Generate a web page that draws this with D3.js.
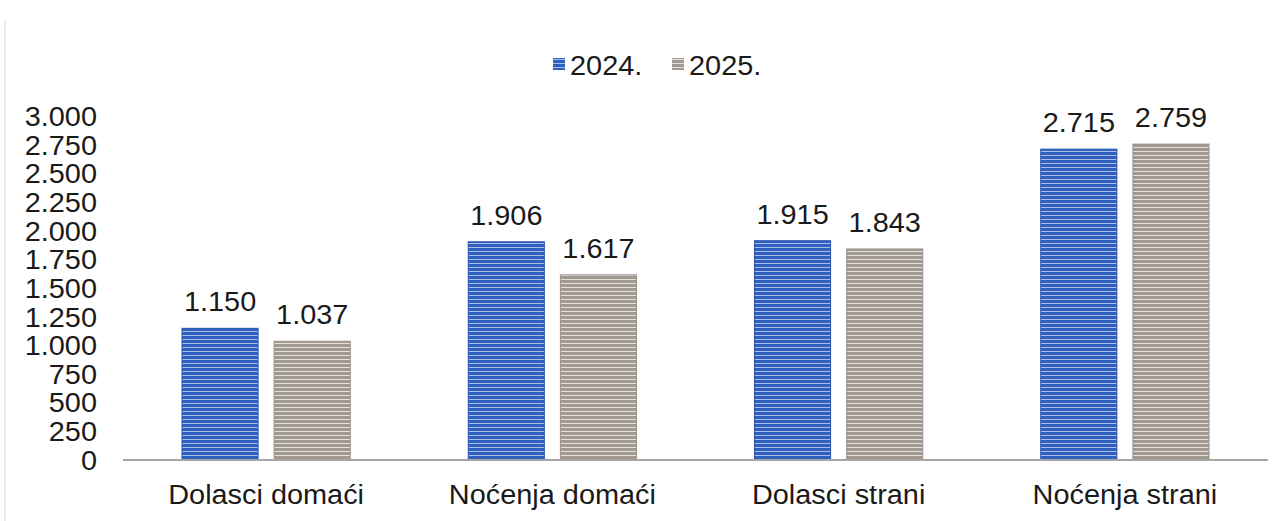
<!DOCTYPE html>
<html>
<head>
<meta charset="utf-8">
<script src="https://cdn.jsdelivr.net/npm/d3@7"></script>
<style>
  body { margin: 0; background: #fff; }
  svg text { font-family: "Liberation Sans", Arial, sans-serif; fill: #1a1a1a; }
</style>
</head>
<body>
<svg id="canvas"></svg>
<script>
let categories = ["Dolasci domaći", "Noćenja domaći", "Dolasci strani", "Noćenja strani"];
let seriesNames = ["2024.", "2025."];
let values2024 = [1150, 1906, 1915, 2715];
let values2025 = [1037, 1617, 1843, 2759];
let yTicks = [0, 250, 500, 750, 1000, 1250, 1500, 1750, 2000, 2250, 2500, 2750, 3000];

var width = 1286, height = 521;
var margin = {top: 116.5, left: 123, right: 18, bottom: 61};
var stretch = 1.07;
var fontSize = 27;

let fmt = function(v) {
    // thousands with a dot, as in the original
    return d3.format(",")(v).replace(/,/g, ".");
}

let svg = d3.select('#canvas')
    .attr('width', width)
    .attr('height', height);

// stripe patterns for the bars
let defs = svg.append("defs");
function stripes(id, base, light) {
    let p = defs.append("pattern")
        .attr("id", id)
        .attr("patternUnits", "userSpaceOnUse")
        .attr("width", 8).attr("height", 4);
    p.append("rect").attr("width", 8).attr("height", 4).attr("fill", base);
    p.append("rect").attr("y", 3).attr("width", 8).attr("height", 1.1).attr("fill", light);
}
stripes("blueStripe", "#2f5fbf", "#a9bfea");
stripes("greyStripe", "#a1988f", "#e4e0dc");
let fills = {"2024.": "url(#blueStripe)", "2025.": "url(#greyStripe)"};
let edges = {"2024.": "#2a56b0", "2025.": "#9a918d"};

// faint scan frame
svg.append("line").attr("x1", 5).attr("x2", 5).attr("y1", 20).attr("y2", 521)
    .attr("stroke", "#ececec").attr("stroke-width", 2);

var x0 = d3.scaleBand()
    .domain(categories)
    .range([margin.left, width - margin.right]);

var x1 = d3.scaleBand()
    .domain(seriesNames)
    .range([0, x0.bandwidth()])
    .paddingInner(0.174)
    .paddingOuter(0.64);

var y = d3.scaleLinear()
    .domain([0, 3000])
    .range([height - margin.bottom, margin.top]);

let rows = categories.map(function(c, i) {
    return {cat: c, vals: [
        {s: "2024.", v: values2024[i]},
        {s: "2025.", v: values2025[i]}
    ]};
});

// y tick labels (no axis line)
svg.append("g").selectAll("text")
    .data(yTicks)
    .enter()
    .append("text")
    .attr("text-anchor", "end")
    .attr("dy", "0.36em")
    .attr("font-size", fontSize)
    .attr("transform", function(d){ return "translate(97," + y(d) + ") scale(" + stretch + ",1)"; })
    .text(fmt);

let groups = svg.append("g").selectAll("g")
    .data(rows)
    .enter()
    .append("g")
    .attr("transform", function(d){ return "translate(" + x0(d.cat) + ",0)"; });

groups.selectAll("rect")
    .data(function(d){ return d.vals; })
    .enter()
    .append("rect")
    .attr("x", function(d){ return x1(d.s); })
    .attr("y", function(d){ return y(d.v); })
    .attr("width", x1.bandwidth())
    .attr("height", function(d){ return y(0) - y(d.v); })
    .attr("fill", function(d){ return fills[d.s]; })
    .attr("stroke", function(d){ return edges[d.s]; })
    .attr("stroke-width", 1);

groups.selectAll(".val")
    .data(function(d){ return d.vals; })
    .enter()
    .append("text")
    .attr("class", "val")
    .attr("text-anchor", "middle")
    .attr("font-size", fontSize)
    .attr("transform", function(d){
        return "translate(" + (x1(d.s) + x1.bandwidth() / 2) + "," + (y(d.v) - 17) + ") scale(" + stretch + ",1)";
    })
    .text(function(d){ return fmt(d.v); });

// x axis baseline
svg.append("line")
    .attr("x1", margin.left).attr("x2", width - margin.right)
    .attr("y1", y(0)).attr("y2", y(0))
    .attr("stroke", "#a6a6a6").attr("stroke-width", 2);

// category labels
svg.append("g").selectAll("text")
    .data(categories)
    .enter()
    .append("text")
    .attr("text-anchor", "middle")
    .attr("font-size", fontSize)
    .attr("transform", function(d){
        return "translate(" + (x0(d) + x0.bandwidth() / 2) + ",504) scale(" + stretch + ",1)";
    })
    .text(function(d){ return d; });

// legend
let legendX = [553, 672];
let legend = svg.append("g").selectAll("g")
    .data(seriesNames)
    .enter()
    .append("g")
    .attr("transform", function(d, i){ return "translate(" + legendX[i] + ",0)"; });
legend.append("rect")
    .attr("x", 0).attr("y", 58)
    .attr("width", 12).attr("height", 12)
    .attr("fill", function(d){ return fills[d]; });
legend.append("text")
    .attr("font-size", fontSize)
    .attr("transform", "translate(17,75) scale(" + stretch + ",1)")
    .text(function(d){ return d; });
</script>
</body>
</html>
